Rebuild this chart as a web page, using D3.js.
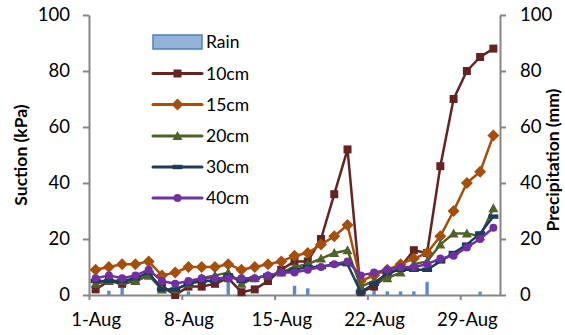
<!DOCTYPE html>
<html>
<head>
<meta charset="utf-8">
<script src="https://cdn.jsdelivr.net/npm/d3@7"></script>
<style>
  html, body { margin: 0; padding: 0; background: #fff; }
  svg text { font-family: Lato, "Liberation Sans", sans-serif; fill: #000; }
</style>
</head>
<body>
<svg id="chart" width="565" height="335"></svg>
<script>
// Day of August for each reading
const days = [1,2,3,4,5,6,7,8,9,10,11,12,13,14,15,16,17,18,19,20,21,22,23,24,25,26,27,28,29,30,31];

// Daily rainfall (mm)
const rain = [0,1.5,2.7,0,0,0,0,1.3,0,0,4.7,0,0,0,0,3.3,2.4,0,0,0,0,1.8,1.3,1.3,1.3,4.7,0,0,0,1.2,0];

// Matric suction (kPa) at each depth
const s10 = [2,5,4,5,7,3,0,3,3,4,6,1,2,5,9,12,12,20,36,52,1,3,7,10,16,15,46,70,80,85,88];
const s15 = [9,10,11,11,12,7,8,10,10,10,11,9,10,11,12,14,15,18,21,25,5,7,9,11,13,15,21,30,40,44,57];
const s20 = [4,5,5,5,7,2,2,4,6,7,8,4,6,7,8,10,11,13,15,16,3,5,6,8,11,12,18,22,22,21,31];
const s30 = [5,5,5,6,8,2,2,4,5,5,7,5,6,7,8,9,10,10,11,11,1,4,8,9,9,9,12,15,18,22,28];
const s40 = [6,7,6,7,9,5,4,5,6,6,6,6,6,7,8,8,9,10,11,12,7,8,9,10,10,11,13,14,17,20,24];

// Axis ticks
const xTickDays = [1,8,15,22,29];
const xTickLabels = ["1-Aug","8-Aug","15-Aug","22-Aug","29-Aug"];
const yTicks = [0,20,40,60,80,100];

// Series definitions
const seriesNames = ["10cm","15cm","20cm","30cm","40cm"];
const seriesValues = [s10, s15, s20, s30, s40];
const seriesColors = ["#632423","#a64f0b","#4f6228","#1f3b5e","#7030a0"];
const seriesMarkers = ["square","diamond","triangle","dash","circle"];

const svg = d3.select("#chart");
const plotL = 89, plotR = 500, plotT = 15, plotB = 295;

const dayDate = (d, h) => new Date(Date.UTC(2013, 7, d, h || 0));
const x = d3.scaleUtc().domain([dayDate(1), dayDate(32)]).range([plotL, plotR]);
const y = d3.scaleLinear().domain([0, 100]).range([plotB, plotT]);
const yR = d3.scaleLinear().domain([0, 100]).range([plotB, plotT]);
const xc = d => x(dayDate(d, 12));

const axisColor = "#868686";

// Rain bars (right axis)
svg.append("g").selectAll("rect").data(days).join("rect")
  .attr("x", (d) => xc(d) - 1.7)
  .attr("width", 3.4)
  .attr("y", (d, i) => yR(rain[i]))
  .attr("height", (d, i) => plotB - yR(rain[i]))
  .attr("fill", "#5a8ccc");

// Axes
function styleAxis(g) {
  g.selectAll("path.domain").attr("stroke", axisColor).attr("stroke-width", 2);
  g.selectAll(".tick line").attr("stroke", axisColor).attr("stroke-width", 2);
  g.selectAll(".tick text").attr("font-size", 18.5).attr("fill", "#000");
}

const gL = svg.append("g").attr("transform", `translate(${plotL},0)`)
  .call(d3.axisLeft(y).tickValues(yTicks).tickSize(6).tickPadding(13).tickSizeOuter(0));
styleAxis(gL);

const gR = svg.append("g").attr("transform", `translate(${plotR},0)`)
  .call(d3.axisRight(yR).tickValues(yTicks).tickSize(6).tickPadding(14).tickSizeOuter(0));
styleAxis(gR);

const halfDay = xc(1) - x(dayDate(1));
const gX = svg.append("g").attr("transform", `translate(0,${plotB})`)
  .call(d3.axisBottom(x).tickValues(xTickDays.map(d => dayDate(d)))
    .tickFormat((d, i) => xTickLabels[i]).tickSize(5).tickPadding(13).tickSizeOuter(0));
styleAxis(gX);
gX.selectAll(".tick text").attr("dx", halfDay);

// Axis titles
svg.append("text")
  .attr("transform", "translate(27,155) rotate(-90)")
  .attr("text-anchor", "middle").attr("font-size", 17.5).attr("font-weight", "bold")
  .text("Suction (kPa)");
svg.append("text")
  .attr("transform", "translate(559,160) rotate(-90)")
  .attr("text-anchor", "middle").attr("font-size", 17.5).attr("font-weight", "bold")
  .text("Precipitation (mm)");

// Marker drawing
function drawMarker(g, type, color, cx, cy, scale) {
  const s = scale || 1;
  if (type === "square") {
    g.append("rect").attr("x", cx - 4 * s).attr("y", cy - 4 * s)
      .attr("width", 8 * s).attr("height", 8 * s).attr("fill", color);
  } else if (type === "diamond") {
    const r = 6 * s;
    g.append("path").attr("d", `M${cx},${cy - r}L${cx + r},${cy}L${cx},${cy + r}L${cx - r},${cy}Z`)
      .attr("fill", color);
  } else if (type === "triangle") {
    const r = 5 * s;
    g.append("path").attr("d", `M${cx},${cy - r}L${cx + r},${cy + r * 0.8}L${cx - r},${cy + r * 0.8}Z`)
      .attr("fill", color);
  } else if (type === "circle") {
    g.append("circle").attr("cx", cx).attr("cy", cy).attr("r", 4 * s).attr("fill", color);
  } else if (type === "dash") {
    g.append("rect").attr("x", cx - 5 * s).attr("y", cy - 2.2 * s)
      .attr("width", 10 * s).attr("height", 4.4 * s).attr("fill", color);
  }
}

// Suction lines
const line = d3.line().x((v, i) => xc(days[i])).y(v => y(v));
seriesValues.forEach((vals, k) => {
  const g = svg.append("g");
  g.append("path").datum(vals).attr("d", line)
    .attr("fill", "none").attr("stroke", seriesColors[k]).attr("stroke-width", 2.5)
    .attr("stroke-linejoin", "round");
  vals.forEach((v, i) => drawMarker(g, seriesMarkers[k], seriesColors[k], xc(days[i]), y(v)));
});

// Legend
const lg = svg.append("g");
const lx0 = 153, lx1 = 202, ltx = 206;
lg.append("rect").attr("x", lx0).attr("y", 35).attr("width", lx1 - lx0).attr("height", 14)
  .attr("fill", "#95b3d7").attr("stroke", "#4f81bd").attr("stroke-width", 1.5);
lg.append("text").attr("x", ltx).attr("y", 42).attr("dy", "0.35em").attr("font-size", 17.5).text("Rain");
const rowY = [73.5, 104.5, 136, 167, 198];
seriesNames.forEach((name, k) => {
  const cy = rowY[k];
  lg.append("line").attr("x1", lx0).attr("x2", lx1).attr("y1", cy).attr("y2", cy)
    .attr("stroke", seriesColors[k]).attr("stroke-width", 3).attr("stroke-linecap", "round");
  drawMarker(lg, seriesMarkers[k], seriesColors[k], (lx0 + lx1) / 2, cy, 1);
  lg.append("text").attr("x", ltx).attr("y", cy).attr("dy", "0.35em").attr("font-size", 17.5).text(name);
});
</script>
</body>
</html>
